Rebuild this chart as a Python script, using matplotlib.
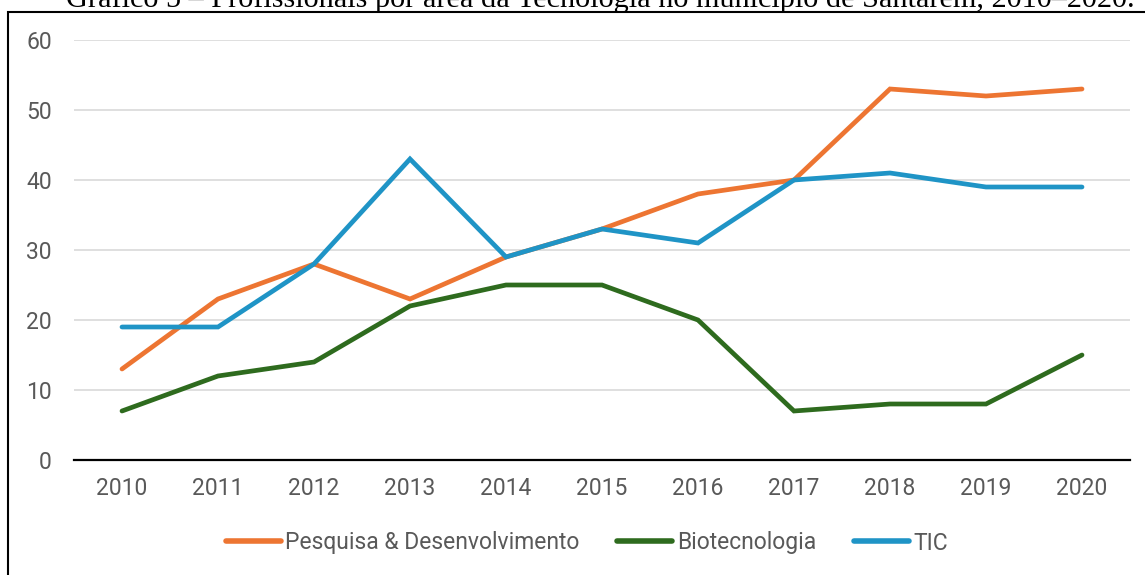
import matplotlib
matplotlib.use('Agg')
import matplotlib.pyplot as plt
from matplotlib.patches import Rectangle

anos = [2010, 2011, 2012, 2013, 2014, 2015, 2016, 2017, 2018, 2019, 2020]
pesquisa = [13, 23, 28, 23, 29, 33, 38, 40, 53, 52, 53]
biotec = [7, 12, 14, 22, 25, 25, 20, 7, 8, 8, 15]
tic = [19, 19, 28, 43, 29, 33, 31, 40, 41, 39, 39]
nomes = ['Pesquisa & Desenvolvimento', 'Biotecnologia', 'TIC']
cores = ['#ED7532', '#2E6B1E', '#1F94C6']
titulo = 'Gráfico 5 – Profissionais por área da Tecnologia no município de Santarém, 2010–2020.'

plt.rcParams['font.family'] = ['Roboto', 'DejaVu Sans']

fig = plt.figure(figsize=(11.45, 5.75), dpi=100)
ax = fig.add_axes([74/1145, 1 - 460/575, (1130 - 74)/1145, 420/575])

for serie, nome, cor in zip([pesquisa, biotec, tic], nomes, cores):
    ax.plot(anos, serie, color=cor, lw=3.4, label=nome, solid_capstyle='round', solid_joinstyle='miter')

ax.set_xlim(2009.5, 2020.5)
ax.set_ylim(0, 60)
ax.set_yticks(range(0, 61, 10))
ax.set_xticks(anos)
ax.grid(axis='y', color='#D9D9D9', lw=1.2)
ax.set_axisbelow(True)
for s in ['top', 'right', 'left']:
    ax.spines[s].set_visible(False)
ax.spines['bottom'].set_color('#000000')
ax.spines['bottom'].set_linewidth(1.6)
ax.spines['bottom'].set_zorder(3)
ax.tick_params(axis='both', length=0, labelsize=16.5, labelcolor='#595959')
ax.tick_params(axis='y', pad=16)
ax.tick_params(axis='x', pad=12)

leg = fig.legend(loc='center', bbox_to_anchor=(587/1145, 1 - 543/575), ncol=3, frameon=False,
                 prop={'size': 16.5}, labelcolor='#595959',
                 handlelength=2.4, handletextpad=0.2, columnspacing=1.65)
for h in leg.get_lines():
    h.set_linewidth(4)

# moldura do gráfico
fig.patches.append(Rectangle((8/1145, -0.1), 1.2, 1 - 12/575 + 0.1, transform=fig.transFigure,
                             fill=False, edgecolor='black', lw=1.5))
fig.text(0.524, 1 - 7/575, titulo, ha='center', va='baseline', fontsize=21.8,
         family=['Liberation Serif', 'DejaVu Serif'])

fig.savefig('out.png', dpi=100)
